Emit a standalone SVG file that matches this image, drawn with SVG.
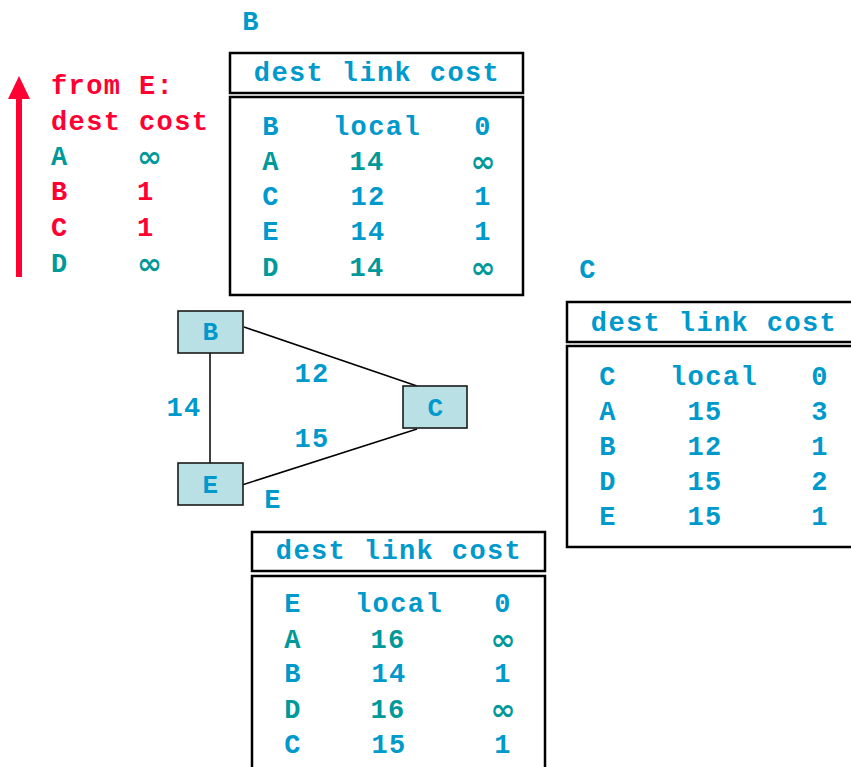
<svg xmlns="http://www.w3.org/2000/svg" width="851" height="767" viewBox="0 0 851 767">
  <style>
    text { font-family: "Liberation Mono", "Courier New", monospace; font-weight: bold; font-size: 27px; letter-spacing: 1.4px; }
    .blue { fill: #0099CC; }
    .teal { fill: #009999; }
    .red { fill: #FF0033; }
    .mid { text-anchor: middle; }
    text.inf { font-family: "DejaVu Sans", sans-serif; font-size: 30px; letter-spacing: 0; }
    .frame { fill: #FFFFFF; stroke: #000000; stroke-width: 2.5; }
    .node rect { fill: #B9E0E4; stroke: #1A1A1A; stroke-width: 1.6; }
    .node text { font-size: 26px; }
    .edge { stroke: #000000; stroke-width: 1.5; fill: none; }
  </style>

  <!-- advertisement sent by E, with upward arrow -->
  <g id="advert">
    <line x1="19" y1="277" x2="19" y2="95" stroke="#FF0033" stroke-width="6"/>
    <polygon points="8,99 30,99 19,76" fill="#FF0033"/>
    <text class="red" x="51" y="94">from E:</text>
    <text class="red" x="51" y="130">dest cost</text>
    <text class="teal" x="51" y="165">A</text><text class="teal inf" x="137" y="167">∞</text>
    <text class="red" x="51" y="200">B<tspan x="137">1</tspan></text>
    <text class="red" x="51" y="236">C<tspan x="137">1</tspan></text>
    <text class="teal" x="51" y="272">D</text><text class="teal inf" x="137" y="274">∞</text>
  </g>

  <!-- routing table of B -->
  <g id="table-B">
    <text class="blue mid" x="251" y="30">B</text>
    <g transform="translate(230,53)">
      <rect class="frame" x="0" y="0" width="293" height="40"/>
      <text class="blue mid" x="147" y="28">dest link cost</text>
      <rect class="frame" x="0" y="44" width="293" height="198"/>
      <text class="blue mid" x="41" y="82">B</text><text class="blue mid" x="147" y="82">local</text><text class="blue mid" x="253" y="82">0</text>
      <text class="teal mid" x="41" y="117">A</text><text class="teal mid" x="137" y="117">14</text><text class="teal mid inf" x="253" y="119">∞</text>
      <text class="blue mid" x="41" y="152">C</text><text class="blue mid" x="138" y="152">12</text><text class="blue mid" x="253" y="152">1</text>
      <text class="blue mid" x="41" y="187">E</text><text class="blue mid" x="138" y="187">14</text><text class="blue mid" x="253" y="187">1</text>
      <text class="teal mid" x="41" y="223">D</text><text class="teal mid" x="137" y="223">14</text><text class="teal mid inf" x="253" y="225">∞</text>
    </g>
  </g>

  <!-- routing table of C -->
  <g id="table-C">
    <text class="blue mid" x="588" y="278">C</text>
    <g transform="translate(567,302)">
      <rect class="frame" x="0" y="0" width="293" height="40"/>
      <text class="blue mid" x="147" y="29">dest link cost</text>
      <rect class="frame" x="0" y="44" width="293" height="201"/>
      <text class="blue mid" x="41" y="83">C</text><text class="blue mid" x="147" y="83">local</text><text class="blue mid" x="253" y="83">0</text>
      <text class="blue mid" x="41" y="118">A</text><text class="blue mid" x="138" y="118">15</text><text class="blue mid" x="253" y="118">3</text>
      <text class="blue mid" x="41" y="153">B</text><text class="blue mid" x="138" y="153">12</text><text class="blue mid" x="253" y="153">1</text>
      <text class="blue mid" x="41" y="188">D</text><text class="blue mid" x="138" y="188">15</text><text class="blue mid" x="253" y="188">2</text>
      <text class="blue mid" x="41" y="223">E</text><text class="blue mid" x="138" y="223">15</text><text class="blue mid" x="253" y="223">1</text>
    </g>
  </g>

  <!-- routing table of E -->
  <g id="table-E">
    <g transform="translate(252,532)">
      <rect class="frame" x="0" y="0" width="293" height="39"/>
      <text class="blue mid" x="147" y="27">dest link cost</text>
      <rect class="frame" x="0" y="44" width="293" height="210"/>
      <text class="blue mid" x="41" y="80">E</text><text class="blue mid" x="147" y="80">local</text><text class="blue mid" x="251" y="80">0</text>
      <text class="teal mid" x="41" y="116">A</text><text class="teal mid" x="136" y="116">16</text><text class="teal mid inf" x="251" y="118">∞</text>
      <text class="blue mid" x="41" y="150">B</text><text class="blue mid" x="137" y="150">14</text><text class="blue mid" x="251" y="150">1</text>
      <text class="teal mid" x="41" y="186">D</text><text class="teal mid" x="136" y="186">16</text><text class="teal mid inf" x="251" y="188">∞</text>
      <text class="blue mid" x="41" y="221">C</text><text class="blue mid" x="137" y="221">15</text><text class="blue mid" x="251" y="221">1</text>
    </g>
  </g>

  <!-- links between routers -->
  <g id="connectors">
    <line class="edge" x1="244" y1="327" x2="417" y2="386"/>
    <line class="edge" x1="242" y1="485" x2="417" y2="429"/>
    <line class="edge" x1="210" y1="353" x2="210" y2="463"/>
    <text class="blue mid" x="312" y="382">12</text>
    <text class="blue mid" x="312" y="447">15</text>
    <text class="blue mid" x="184" y="416">14</text>
  </g>

  <!-- routers -->
  <g id="node-B" class="node">
    <rect x="178" y="311" width="65" height="42"/>
    <text class="blue mid" x="211" y="340">B</text>
  </g>
  <g id="node-C" class="node">
    <rect x="403" y="386" width="64" height="42"/>
    <text class="blue mid" x="436" y="416">C</text>
  </g>
  <g id="node-E" class="node">
    <rect x="178" y="463" width="65" height="42"/>
    <text class="blue mid" x="211" y="493">E</text>
  </g>
  <text class="blue mid" x="273" y="508">E</text>
</svg>
